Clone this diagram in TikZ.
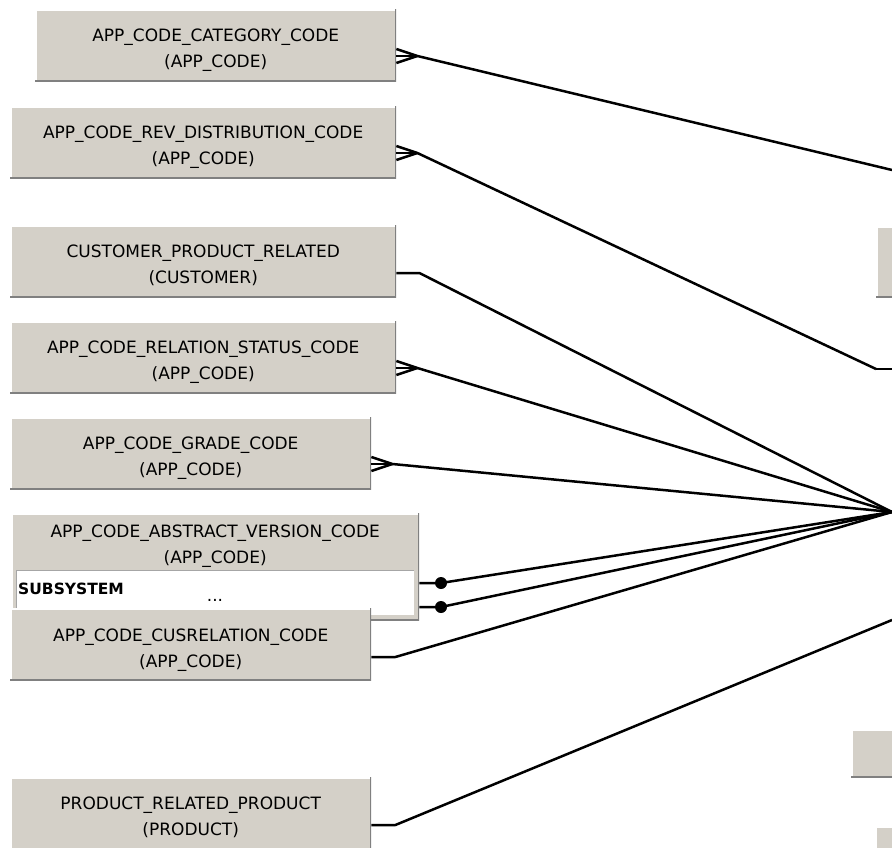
\documentclass[tikz,border=0pt]{standalone}
\usepackage{fontspec}
\setmainfont{DejaVu Sans}
\usetikzlibrary{positioning,calc}
\definecolor{boxgray}{HTML}{D4D0C8}
\definecolor{edgedark}{HTML}{808080}
\definecolor{edgelight}{HTML}{FFFFFF}

\begin{document}
\begin{tikzpicture}[x=1pt, y=-1pt,
    entity/.style={fill=boxgray, anchor=north west, inner sep=0pt, minimum height=72pt,
        path picture={
            \draw[edgelight, line width=3pt] (path picture bounding box.south west) |- (path picture bounding box.north east);
            \draw[edgedark, line width=3pt] (path picture bounding box.south west) -| (path picture bounding box.north east);
        }},
    field/.style={fill=white, anchor=north west, inner sep=0pt,
        path picture={
            \draw[edgedark!70, line width=2pt] (path picture bounding box.south west) |- (path picture bounding box.north east);
            \draw[boxgray, line width=2pt] (path picture bounding box.south west) -| (path picture bounding box.north east);
        }},
    caption/.style={anchor=north, align=center, inner sep=0pt, font=\fontsize{17}{26}\selectfont},
    link/.style={black, line width=2.5pt, line join=round}]
    \useasboundingbox (0,0) rectangle (892,848);
    \clip (0,0) rectangle (892,848);

    % loose ends of the links
    \coordinate (hub) at (892,512);
    \coordinate (catend) at (892,170);
    \coordinate (revbend) at (876,369);
    \coordinate (revend) at (892,369);
    \coordinate (prodend) at (892,620);
    \coordinate (subdotA) at (441,583);
    \coordinate (subdotB) at (441,607);

    % entities, left column
    \node[entity, minimum width=361pt] (catbox) at (35,9) {};
    \node[caption, below=20pt of catbox.north] (catlbl) {APP\_CODE\_CATEGORY\_CODE\\(APP\_CODE)};
    \node[entity, minimum width=386pt] (revbox) at (10,106) {};
    \node[caption, below=20pt of revbox.north] (revlbl) {APP\_CODE\_REV\_DISTRIBUTION\_CODE\\(APP\_CODE)};
    \node[entity, minimum width=386pt] (custbox) at (10,225) {};
    \node[caption, below=20pt of custbox.north] (custlbl) {CUSTOMER\_PRODUCT\_RELATED\\(CUSTOMER)};
    \node[entity, minimum width=386pt] (statbox) at (10,321) {};
    \node[caption, below=20pt of statbox.north] (statlbl) {APP\_CODE\_RELATION\_STATUS\_CODE\\(APP\_CODE)};
    \node[entity, minimum width=361pt] (gradebox) at (10,417) {};
    \node[caption, below=20pt of gradebox.north] (gradelbl) {APP\_CODE\_GRADE\_CODE\\(APP\_CODE)};

    \node[entity, minimum width=408pt, minimum height=107pt] (absbox) at (11,513) {};
    \node[caption, below=12pt of absbox.north] (abslbl) {APP\_CODE\_ABSTRACT\_VERSION\_CODE\\(APP\_CODE)};
    \node[field, minimum width=399pt, minimum height=46pt] (subfield) at (16,570) {};
    \node[anchor=base west, inner sep=0pt, font=\fontsize{15.5}{18}\selectfont\bfseries] (subname) at (18,594) {SUBSYSTEM};
    \node[anchor=base, inner sep=0pt, font=\fontsize{17}{20}\selectfont] (submore) at (215,601) {...};

    \node[entity, minimum width=361pt] (cusbox) at (10,608) {};
    \node[caption, below=21pt of cusbox.north] (cuslbl) {APP\_CODE\_CUSRELATION\_CODE\\(APP\_CODE)};
    \node[entity, minimum width=361pt] (prodbox) at (10,777) {};
    \node[caption, below=20pt of prodbox.north] (prodlbl) {PRODUCT\_RELATED\_PRODUCT\\(PRODUCT)};

    % entities cut off at the right edge
    \node[entity, minimum width=40pt, minimum height=71pt] (rightA) at (876,226) {};
    \node[entity, minimum width=60pt, minimum height=48pt] (rightB) at (851,729) {};
    \node[entity, minimum width=40pt, minimum height=40pt] (rightC) at (875,826) {};

    % many ends
    \foreach \b/\t in {catbox/catend, revbox/revbend, statbox/hub, gradebox/hub}{
        \draw[link] ($(\b.north east)+(0,40)$) -- ($(\b.north east)+(21,47)$) -- (\t);
        \draw[link] ($(\b.north east)+(0,47)$) -- ++(21,0);
        \draw[link] ($(\b.north east)+(0,54)$) -- ++(21,-7);
    }
    \draw[link] (revbend) -- (revend);

    % plain ends
    \draw[link] ($(custbox.north east)+(0,48)$) -- ++(23,0) -- (hub);
    \draw[link] ($(cusbox.north east)+(0,49)$) -- ++(24,0) -- (hub);
    \draw[link] ($(prodbox.north east)+(0,48)$) -- ++(24,0) -- (prodend);

    % dotted ends from the field
    \draw[link] (absbox.east |- subdotA) -- (subdotA) -- (hub);
    \draw[link] (absbox.east |- subdotB) -- (subdotB) -- (hub);
    \fill (subdotA) circle (6pt);
    \fill (subdotB) circle (6pt);
\end{tikzpicture}
\end{document}
